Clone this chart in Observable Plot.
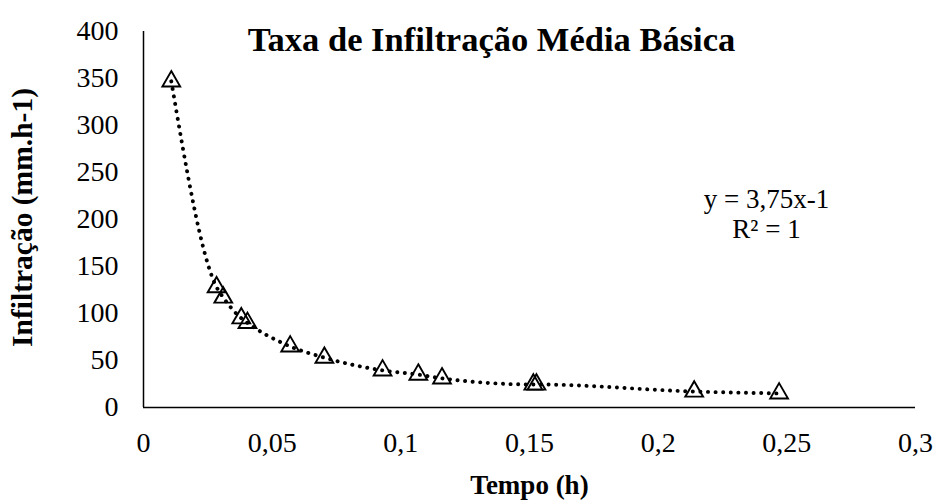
<!DOCTYPE html>
<html><head><meta charset="utf-8">
<script src="https://cdn.jsdelivr.net/npm/d3@7"></script>
<script src="https://cdn.jsdelivr.net/npm/@observablehq/plot@0.6"></script>
<style>body{margin:0;background:#fff;} svg{display:block;}</style>
</head><body><div id="chart"></div>
<script>
const tempo = [0.0108, 0.0284, 0.0310, 0.0380, 0.0404, 0.0570, 0.0703, 0.0929, 0.1068, 0.1160, 0.1515, 0.1527, 0.2140, 0.2470];
const infiltracao = [347, 128, 117, 95, 90, 65, 53, 39.5, 35, 31, 24.5, 24.5, 17, 15];
const xTicks = [0, 0.05, 0.1, 0.15, 0.2, 0.25, 0.3];
const yTicks = [0, 50, 100, 150, 200, 250, 300, 350, 400];
const titleText = "Taxa de Infiltração Média Básica";
const xTitle = "Tempo (h)";
const yTitle = "Infiltração (mm.h-1)";
const eqLine1 = "y = 3,75x-1";
const eqLine2 = "R² = 1";

const data = tempo.map((t, i) => ({t, v: infiltracao[i]}));
const fmt = d => String(d).replace(".", ",");
const font = "Liberation Serif, Times New Roman, serif";

const chart = Plot.plot({
  width: 935, height: 501,
  marginLeft: 143, marginRight: 20, marginTop: 31, marginBottom: 94,
  style: {fontFamily: font, fontSize: "28px", color: "#000", background: "#fff", overflow: "visible"},
  x: {domain: [0, 0.3], ticks: xTicks, tickFormat: fmt, tickSize: 0, tickPadding: 25, label: null},
  y: {domain: [0, 400], ticks: yTicks, tickSize: 0, tickPadding: 25, label: null},
  marks: [
    Plot.ruleY([0], {stroke: "#000", strokeWidth: 1.5}),
    Plot.ruleX([0], {stroke: "#000", strokeWidth: 1.5}),
    Plot.line(data, {x: "t", y: "v", curve: "monotone-x", stroke: "#000", strokeWidth: 3.9, strokeDasharray: "0.1 7.5", strokeLinecap: "round"}),
    Plot.dot(data, {x: "t", y: "v", symbol: "triangle", r: 6.6, stroke: "#000", strokeWidth: 1.9, fill: "none"}),
    Plot.text([titleText], {frameAnchor: "top", lineAnchor: "middle", dx: -38, dy: 8, text: d => d, fontSize: 34.5, fontWeight: "bold", fill: "#000"}),
    Plot.text([eqLine1], {frameAnchor: "top-left", textAnchor: "middle", lineAnchor: "middle", dx: 623, dy: 168, text: d => d, fontSize: 27, fill: "#000"}),
    Plot.text([eqLine2], {frameAnchor: "top-left", textAnchor: "middle", lineAnchor: "middle", dx: 623, dy: 198, text: d => d, fontSize: 27, fill: "#000"}),
    Plot.text([xTitle], {frameAnchor: "bottom", lineAnchor: "middle", dy: 78, text: d => d, fontSize: 27, fontWeight: "bold", fill: "#000"}),
    Plot.text([yTitle], {frameAnchor: "left", textAnchor: "middle", lineAnchor: "middle", rotate: -90, dx: -121, dy: -2, text: d => d, fontSize: 29.5, fontWeight: "bold", fill: "#000"}),
  ]
});
document.getElementById("chart").appendChild(chart);
</script>
</body></html>
